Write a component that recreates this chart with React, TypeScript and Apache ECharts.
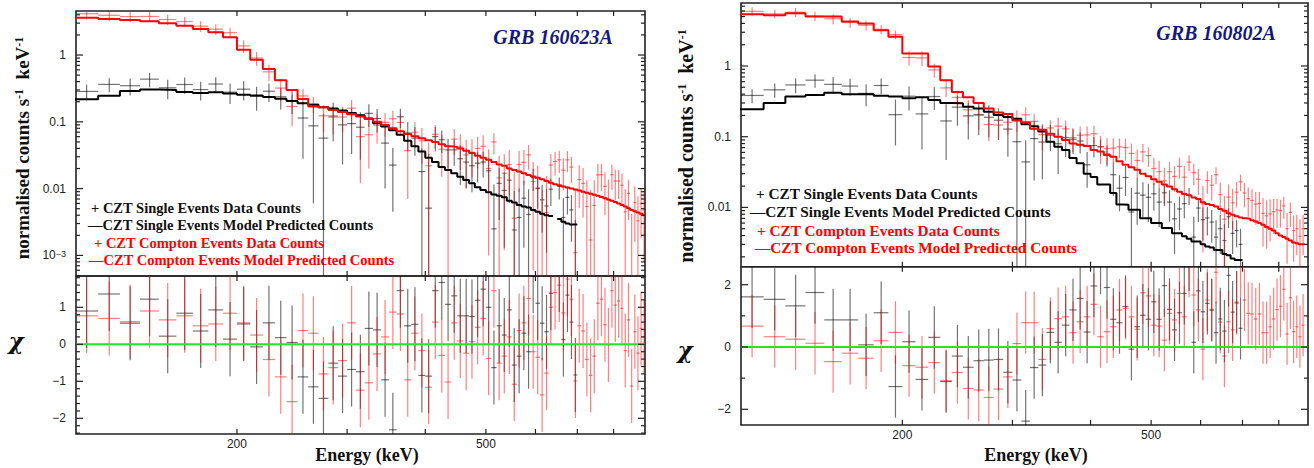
import React, { useEffect, useRef } from "react";
import * as echarts from "echarts";

// ---------- energy channels (lower edges, keV) ----------
const BIN_WIDTH = 10;
const energyLo = [110,120,130,140,150,160,170,180,190,200,
  210,220,230,240,250,260,270,280,290,300,
  310,320,330,340,350,360,370,380,390,400,
  410,420,430,440,450,460,470,480,490,500,
  510,520,530,540,550,560,570,580,590,600,
  610,620,630,640,650,660,670,680,690,700,
  710,720,730,740,750,760,770,780,790,800,
  810,820,830,840,850,860,870,880,890];

// ---------- GRB 160623A ----------
const a_comptonModel = [3.6,3.45,3.35,3.2,3.0,2.75,2.45,2.2,1.85,1.2,
  0.85,0.62,0.42,0.30,0.22,0.17,0.165,0.15,0.14,0.13,
  0.12,0.11,0.10,0.09,0.08,0.072,0.066,0.061,0.057,0.053,
  0.050,0.046,0.043,0.042,0.040,0.037,0.034,0.031,0.029,0.027,
  0.025,0.023,0.022,0.020,0.019,0.018,0.017,0.016,0.0152,0.0145,
  0.0138,0.0130,0.0122,0.0116,0.0112,0.0108,0.0104,0.0100,0.0097,0.0094,
  0.0090,0.0087,0.0084,0.0081,0.0078,0.0075,0.0072,0.0069,0.0066,0.0063,
  0.0060,0.0057,0.0054,0.0051,0.0048,0.0046,0.0044,0.0042,0.0040];
const a_comptonData = [4.15,3.93,3.76,3.78,3.4,3.17,2.7,2.44,2.16,1.37,
  0.90,0.56,0.32,0.17,0.244,0.185,0.123,0.117,0.118,0.16,
  0.060,0.064,0.089,0.098,0.111,0.098,0.037,0.070,0.052,0.022,
  0.065,0.039,0.019,0.055,0.042,0.032,0.035,0.040,0.043,0.020,
  0.050,0.0145,0.017,0.023,0.0036,0.023,0.0247,0.032,0.0128,0.0103,
  -0.0017,0.0044,0.0226,0.0255,0.027,0.0189,0.027,0.021,0.0011,0.0137,
  0.012,0.0054,0.0017,0.0056,0.016,0.0162,0.0108,0.0068,0.0162,0.013,
  0.013,0.0112,0.0045,0.0085,-0.0006,0.0062,0.0033,0.006,0.0048];
const a_comptonErr = [0.72,0.69,0.67,0.64,0.60,0.55,0.49,0.44,0.37,0.30,
  0.21,0.155,0.118,0.084,0.066,0.051,0.053,0.0525,0.049,0.052,
  0.048,0.044,0.042,0.038,0.036,0.032,0.030,0.029,0.0285,0.0265,
  0.025,0.024,0.0237,0.023,0.023,0.022,0.020,0.020,0.020,0.019,
  0.0175,0.0166,0.0158,0.015,0.0143,0.014,0.0133,0.0128,0.0122,0.0119,
  0.0113,0.011,0.0104,0.0099,0.0099,0.0095,0.0094,0.009,0.0087,0.0086,
  0.0083,0.008,0.008,0.0077,0.0074,0.0071,0.0068,0.0069,0.0066,0.0063,
  0.006,0.0057,0.0054,0.0051,0.0048,0.0046,0.0044,0.0042,0.004];
const a_comptonChi = [0.77,0.70,0.61,0.90,0.66,0.77,0.50,0.55,0.84,0.58,
  0.25,-0.41,-0.88,-1.55,0.37,0.30,-0.80,-0.63,-0.44,0.58,
  -1.24,-1.04,-0.26,0.2,0.87,0.82,-0.96,0.3,-0.17,-1.16,
  0.6,-0.3,-1.02,0.58,0.09,-0.24,0.07,0.46,0.70,-0.38,
  1.45,-0.51,-0.32,0.2,-1.08,0.37,0.58,1.24,-0.2,-0.35,
  -1.37,-0.78,1.0,1.40,1.60,0.85,1.76,1.22,-0.99,0.5,
  0.36,-0.41,-0.84,-0.32,1.11,1.22,0.53,-0.02,1.45,1.06,
  1.17,0.97,-0.17,0.66,-1.13,0.34,-0.24,0.43,0.2];

const a_singleModel = [0.217,0.246,0.29,0.305,0.30,0.28,0.27,0.278,0.265,0.255,
  0.248,0.235,0.222,0.205,0.19,0.18,0.165,0.158,0.148,0.135,
  0.125,0.112,0.095,0.085,0.075,0.064,0.052,0.043,0.036,0.029,
  0.025,0.021,0.019,0.017,0.0151,0.0135,0.012,0.0105,0.0095,0.0088,
  0.0082,0.0078,0.0074,0.0066,0.0062,0.0057,0.0054,0.0052,0.0048,0.0045,
  0.0042,0.0040,0.0039,null,0.0035,0.0032,0.0030,0.0029,0.0029];
const a_singleData = [0.285,0.363,0.347,0.435,0.323,0.362,0.304,0.368,0.278,0.308,
  0.241,0.287,0.237,0.209,0.114,0.087,0.057,0.122,0.090,0.094,
  0.083,0.134,0.112,0.048,0.0225,0.119,0.068,0.057,0.018,0.0051,
  0.060,0.054,0.038,0.038,0.028,0.025,0.022,0.024,0.025,0.0185,
  0.0025,0.012,0.0094,0.0134,0.0024,0.0037,0.0072,0.0041,0.0145,0.010,
  0.0068,0.0055,0.0098,null,0.0108,0.0037,0.0074,0.0048,0.0002];
const a_singleErr = [0.076,0.086,0.10,0.107,0.105,0.098,0.095,0.097,0.093,0.097,
  0.094,0.089,0.084,0.078,0.086,0.081,0.074,0.071,0.067,0.061,
  0.056,0.050,0.043,0.038,0.018,0.038,0.031,0.026,0.022,0.028,
  0.024,0.020,0.018,0.016,0.0166,0.0149,0.0132,0.0116,0.0105,0.0097,
  0.009,0.0086,0.0081,0.0073,0.0068,0.0063,0.0059,0.0057,0.0053,0.005,
  0.0046,0.0044,0.0043,null,0.0039,0.0035,0.0033,0.0032,0.0032];
const a_singleChi = [0.90,1.36,0.57,1.22,0.22,0.84,0.36,0.93,0.14,0.55,
  -0.07,0.58,0.18,0.05,-0.88,-1.15,-1.46,-0.51,-0.86,-0.68,
  -0.74,0.43,0.39,-0.96,-2.31,1.45,0.50,0.54,-0.84,-0.86,
  1.45,1.67,1.08,1.31,0.77,0.77,0.75,1.19,1.49,1.0,
  -0.63,0.50,0.25,0.93,-0.56,-0.32,0.3,-0.2,1.84,1.11,
  0.57,0.34,1.38,null,1.87,0.13,1.33,0.6,-0.83];

// ---------- GRB 160802A ----------
const b_comptonModel = [5.4,5.2,5.55,5.0,5.0,4.25,4.0,3.2,2.6,1.5,
  1.5,0.98,0.63,0.43,0.36,0.30,0.25,0.22,0.21,0.17,
  0.16,0.13,0.125,0.11,0.10,0.09,0.08,0.077,0.074,0.065,
  0.062,0.055,0.052,0.045,0.040,0.037,0.034,0.030,0.0275,0.025,
  0.023,0.021,0.0197,0.018,0.0167,0.0155,0.0148,0.0138,0.0132,0.0118,
  0.0112,0.0108,0.0103,0.0095,0.0090,0.0083,0.0079,0.0075,0.0072,0.0070,
  0.0069,0.0066,0.0063,0.0060,0.0057,0.0053,0.0050,0.0047,0.0043,0.0040,
  0.0038,0.0036,0.0034,0.0032,0.0031,0.0030,0.0030];
const b_comptonData = [5.94,5.46,5.76,5.09,4.65,4.12,3.78,3.3,2.78,1.32,
  1.30,0.88,0.49,0.36,0.24,0.20,0.149,0.146,0.16,0.177,
  0.204,0.165,0.107,0.133,0.141,0.129,0.097,0.105,0.106,0.110,
  0.072,0.068,0.069,0.072,0.070,0.058,0.046,0.061,0.054,0.0355,
  0.032,0.0238,0.032,0.0274,0.038,0.0268,0.0437,0.031,0.025,0.0112,
  0.024,0.0206,0.029,0.0152,0.0068,0.0140,0.0116,0.0164,0.023,0.016,
  0.0133,0.0125,0.0111,0.0114,0.0082,0.0076,0.0081,0.0087,0.0092,0.0090,
  0.0105,0.005,0.0085,0.0047,0.0050,0.0039,0.005];
const b_comptonErr = [0.81,0.78,0.83,0.75,0.75,0.64,0.6,0.48,0.39,0.30,
  0.30,0.196,0.126,0.086,0.09,0.075,0.0625,0.055,0.0525,0.06,
  0.056,0.0455,0.044,0.0385,0.045,0.0405,0.036,0.0347,0.0333,0.0325,
  0.031,0.0275,0.026,0.0225,0.024,0.022,0.020,0.018,0.0165,0.015,
  0.0138,0.0126,0.0118,0.0108,0.0125,0.0116,0.0111,0.0104,0.0099,0.0089,
  0.0084,0.0081,0.0077,0.0071,0.0077,0.0071,0.0067,0.0064,0.0061,0.006,
  0.0059,0.0056,0.0054,0.0051,0.0054,0.005,0.0048,0.0045,0.0041,0.0038,
  0.0036,0.0034,0.0032,0.003,0.0029,0.0029,0.0029];
const b_comptonChi = [0.67,0.33,0.25,0.12,-0.47,-0.2,-0.36,0.20,0.47,-0.60,
  -0.65,-0.50,-1.08,-0.82,-1.33,-1.38,-1.62,-1.35,-0.96,0.11,
  0.78,0.78,-0.40,0.59,0.91,0.97,0.46,0.81,0.97,1.37,
  0.33,0.49,0.65,1.19,1.24,0.97,0.57,1.74,1.64,0.70,
  0.67,0.22,1.08,0.87,1.72,0.97,2.6,1.67,1.19,-0.07,
  1.51,1.21,2.4,0.8,-0.29,0.81,0.55,1.40,2.6,1.51,
  1.08,1.06,0.9,1.06,0.46,0.46,0.65,0.9,1.2,1.31,
  1.85,0.42,1.58,0.49,0.65,0.33,0.7];

const b_singleModel = [0.245,0.30,0.37,0.39,0.42,0.40,0.40,0.38,0.37,0.35,
  0.36,0.33,0.30,0.297,0.266,0.25,0.226,0.203,0.19,0.18,
  0.15,0.14,0.118,0.085,0.072,0.065,0.050,0.042,0.030,0.027,
  0.021,0.021,0.016,0.011,0.0109,0.0093,0.0093,0.0070,0.0070,0.0060,
  0.0060,0.0051,0.0051,0.0043,0.0043,0.0039,0.0036,0.0033,0.0033,0.0030,
  0.0028,0.0027,0.0025,0.0025,0.0022,0.0021,0.0019,0.0018,0.0018];
const b_singleData = [0.383,0.46,0.54,0.63,0.55,0.52,0.41,0.53,0.205,0.374,
  0.21,0.37,0.167,0.262,0.197,0.206,0.188,0.171,0.128,0.085,
  0.044,0.094,0.084,0.105,0.0796,0.097,0.092,0.087,0.040,0.075,
  0.072,0.057,0.029,0.0187,0.0265,0.0086,0.0159,0.0149,0.0139,0.0156,
  0.0119,0.0161,0.0119,0.0069,0.0095,0.0113,0.0148,0.0038,0.0098,0.0067,
  0.0071,0.0062,0.0038,0.005,0.0034,0.0074,0.0043,0.0047,0.003];
const b_singleErr = [0.086,0.105,0.13,0.137,0.147,0.14,0.14,0.133,0.13,0.14,
  0.144,0.132,0.12,0.119,0.106,0.10,0.09,0.081,0.076,0.09,
  0.045,0.07,0.059,0.0425,0.05,0.0455,0.035,0.029,0.021,0.0243,
  0.019,0.019,0.0144,0.0099,0.012,0.0102,0.0102,0.0077,0.0077,0.0066,
  0.0066,0.0056,0.0056,0.0047,0.0047,0.0043,0.004,0.0036,0.0036,0.0033,
  0.0031,0.003,0.0028,0.0028,0.0024,0.0023,0.0021,0.002,0.002];
const b_singleChi = [1.61,1.53,1.32,1.75,0.87,0.87,0.07,1.10,-1.27,0.17,
  -1.04,0.31,-1.11,-0.29,-0.65,-0.44,-0.42,-0.40,-0.81,-1.06,
  -2.38,-0.66,-0.58,0.47,0.15,0.70,1.19,1.56,0.48,1.96,
  2.7,1.91,0.89,0.78,1.30,-0.07,0.65,1.02,0.89,1.45,
  0.89,1.97,1.21,0.55,1.1,1.72,2.8,0.15,1.8,1.13,
  1.40,1.18,0.46,0.9,0.51,2.3,1.12,1.44,0.6];

// ---------- axes / ticks ----------
const CHI_ERR = 1;
const xLabelTicks = [200, 500];
const xMinorTicks = [300, 400, 600, 700, 800];
const logDecades = [0.0001, 0.001, 0.01, 0.1, 1, 10];
const logMinorMult = [2, 3, 4, 5, 6, 7, 8, 9];
const a_yLabels = [1, 0.1, 0.01, 0.001];
const b_yLabels = [1, 0.1, 0.01];
const a_chiLabels = [1, 0, -1, -2];
const a_chiMinor = [-2.4,-2.2,-1.8,-1.6,-1.4,-1.2,-0.8,-0.6,-0.4,-0.2,0.2,0.4,0.6,0.8,1.2,1.4,1.6,1.8];
const b_chiLabels = [2, 0, -2];
const b_chiMinor = [-1, 1];

const SERIF = "'Liberation Serif','Times New Roman',serif";
const SANS = "'Liberation Sans',Arial,sans-serif";
const TICK = "#222";
const RED_BAR = "rgba(255,0,0,0.5)";
const BLACK_BAR = "rgba(0,0,0,0.55)";

function stepRuns(model: any[]) {
  const runs: any[] = [];
  let cur: any[] = [];
  model.forEach((m, i) => {
    if (m == null) {
      if (cur.length) runs.push(cur);
      cur = [];
      return;
    }
    const lo = energyLo[i];
    cur.push([lo, m], [lo + BIN_WIDTH, m]);
  });
  if (cur.length) runs.push(cur);
  return runs;
}

function crossData(values: any[], errs: any[] | null) {
  const out: any[] = [];
  values.forEach((v, i) => {
    if (v == null) return;
    const lo = energyLo[i];
    out.push([lo, lo + BIN_WIDTH, v, errs ? errs[i] : CHI_ERR]);
  });
  return out;
}

function crossSeries(data: any[], color: string, gi: number, logY: boolean) {
  return {
    type: "custom",
    xAxisIndex: gi,
    yAxisIndex: gi,
    silent: true,
    z: 2,
    data,
    encode: { x: [0, 1], y: 3 },
    renderItem: (params: any, api: any) => {
      const cs = params.coordSys;
      const L = cs.x, R = cs.x + cs.width, T = cs.y, B = cs.y + cs.height;
      const lo = api.value(0), hi = api.value(1), v = api.value(2), e = api.value(3);
      const c = (lo + hi) / 2;
      const px = (x: number) => api.coord([x, 1])[0];
      const py = (y: number) => (logY && y <= 0 ? B + 50 : api.coord([c, y])[1]);
      const cl = (y: number) => Math.min(B, Math.max(T, y));
      const children: any[] = [];
      const xc = px(c);
      const y1 = cl(py(v + e));
      const y2 = cl(py(v - e));
      if (xc >= L && xc <= R && y2 - y1 > 0.2) {
        children.push({ type: "line", shape: { x1: xc, y1, x2: xc, y2 }, style: { stroke: color, lineWidth: 1.2 } });
      }
      const yv = py(v);
      if (yv >= T && yv <= B) {
        const xa = Math.max(L, px(lo));
        const xb = Math.min(R, px(hi));
        if (xb > xa) children.push({ type: "line", shape: { x1: xa, y1: yv, x2: xb, y2: yv }, style: { stroke: color, lineWidth: 1.2 } });
      }
      return { type: "group", children };
    },
  };
}

function tickSeries(gi: number, cfg: any) {
  return {
    type: "custom",
    xAxisIndex: gi,
    yAxisIndex: gi,
    silent: true,
    z: 6,
    data: [[cfg.xRef, cfg.yRef]],
    renderItem: (params: any, api: any) => {
      const cs = params.coordSys;
      const L = cs.x, R = cs.x + cs.width, T = cs.y, B = cs.y + cs.height;
      const ch: any[] = [];
      const ln = (x1: number, y1: number, x2: number, y2: number) =>
        ch.push({ type: "line", shape: { x1, y1, x2, y2 }, style: { stroke: TICK, lineWidth: 1.2 } });
      const tx = (x: number, y: number, text: string, align: string, rich?: any) =>
        ch.push({
          type: "text",
          x, y,
          style: { text, font: "12px " + SANS, fill: "#222", align, verticalAlign: "middle", rich },
        });
      [...xLabelTicks, ...xMinorTicks].forEach((v) => {
        const x = api.coord([v, cfg.yRef])[0];
        if (x < L || x > R) return;
        ln(x, B, x, B - 5);
        ln(x, T, x, T + 5);
      });
      if (cfg.xLabels) {
        xLabelTicks.forEach((v) => {
          const x = api.coord([v, cfg.yRef])[0];
          tx(x, B + 10, String(v), "center");
        });
      }
      const yMajor: number[] = cfg.yMajor;
      const yMinor: number[] = cfg.yMinor;
      yMajor.forEach((v) => {
        const y = api.coord([cfg.xRef, v])[1];
        if (y < T - 0.5 || y > B + 0.5) return;
        ln(L, y, L + 7, y);
        ln(R, y, R - 7, y);
        const lab = cfg.fmt(v);
        if (lab.rich) tx(L - 10, y, lab.text, "right", lab.rich);
        else tx(L - 10, y, lab, "right");
      });
      yMinor.forEach((v) => {
        const y = api.coord([cfg.xRef, v])[1];
        if (y < T || y > B) return;
        ln(L, y, L + 4, y);
        ln(R, y, R - 4, y);
      });
      return { type: "group", children: ch };
    },
  };
}

function logMinor(min: number, max: number) {
  const out: number[] = [];
  logDecades.forEach((d) => logMinorMult.forEach((m) => {
    const v = d * m;
    if (v > min && v < max) out.push(v);
  }));
  return out;
}

const fmtLog = (v: number) => {
  if (v === 0.001) {
    return {
      text: "{b|10}{s|\u22123}",
      rich: {
        b: { font: "12px " + SANS, fill: "#222" },
        s: { font: "9px " + SANS, fill: "#222", verticalAlign: "top" },
      },
    };
  }
  return String(v);
};
const fmtChi = (v: number) => (v < 0 ? "\u2212" + String(-v) : String(v));

function modelSeries(model: any[], color: string, gi: number) {
  return stepRuns(model).map((run) => ({
    type: "line",
    xAxisIndex: gi,
    yAxisIndex: gi,
    data: run,
    symbol: "none",
    silent: true,
    z: 3,
    lineStyle: { color, width: 2 },
  }));
}

function zeroLine(gi: number, xmin: number, xmax: number) {
  return {
    type: "line",
    xAxisIndex: gi,
    yAxisIndex: gi,
    data: [[xmin, 0], [xmax, 0]],
    symbol: "none",
    silent: true,
    z: 4,
    lineStyle: { color: "#22e822", width: 2 },
  };
}

const legendLabels = [
  "+ CZT Single Events Data Counts",
  "\u2014CZT Single Events Model Predicted Counts",
  "+ CZT Compton Events Data Counts",
  "\u2014CZT Compton Events Model Predicted Counts",
];
const legendColors = ["#111", "#111", "#ff0000", "#ff0000"];

export default function App() {
  const ref = useRef<HTMLDivElement>(null);
  useEffect(() => {
    if (!ref.current) return;
    const chart = echarts.init(ref.current, undefined, { renderer: "svg" });

    const A = { L: 76, R: 645, T: 11, M: 276, B: 434, xmin: 110.6, xmax: 898, ymin: 4.92e-4, ymax: 4.56, cmin: -2.424, cmax: 1.846 };
    const Bp = { L: 741, R: 1308, T: 3, M: 266.7, B: 425, xmin: 110.4, xmax: 891, ymin: 1.45e-3, ymax: 7.78, cmin: -2.504, cmax: 2.578 };

    const grids = [
      { left: A.L, top: A.T, width: A.R - A.L, height: A.M - A.T },
      { left: A.L, top: A.M, width: A.R - A.L, height: A.B - A.M },
      { left: Bp.L, top: Bp.T, width: Bp.R - Bp.L, height: Bp.M - Bp.T },
      { left: Bp.L, top: Bp.M, width: Bp.R - Bp.L, height: Bp.B - Bp.M },
    ].map((g) => ({ ...g, show: true, borderColor: "#222", borderWidth: 1.6, backgroundColor: "transparent" }));

    const xAxes = [A, A, Bp, Bp].map((p, i) => ({
      type: "log", logBase: 10, gridIndex: i, min: p.xmin, max: p.xmax, show: false,
    }));
    const yAxes = [
      { type: "log", logBase: 10, gridIndex: 0, min: A.ymin, max: A.ymax, show: false },
      { type: "value", gridIndex: 1, min: A.cmin, max: A.cmax, show: false },
      { type: "log", logBase: 10, gridIndex: 2, min: Bp.ymin, max: Bp.ymax, show: false },
      { type: "value", gridIndex: 3, min: Bp.cmin, max: Bp.cmax, show: false },
    ];

    const series: any[] = [
      // GRB 160623A spectrum
      crossSeries(crossData(a_singleData, a_singleErr), BLACK_BAR, 0, true),
      crossSeries(crossData(a_comptonData, a_comptonErr), RED_BAR, 0, true),
      ...modelSeries(a_singleModel, "#000", 0),
      ...modelSeries(a_comptonModel, "#ff0000", 0),
      tickSeries(0, { xRef: 300, yRef: 0.1, xLabels: false, yMajor: a_yLabels, yMinor: logMinor(A.ymin, A.ymax), fmt: fmtLog }),
      // GRB 160623A residuals
      crossSeries(crossData(a_singleChi, null), BLACK_BAR, 1, false),
      crossSeries(crossData(a_comptonChi, null), RED_BAR, 1, false),
      zeroLine(1, A.xmin, A.xmax),
      tickSeries(1, { xRef: 300, yRef: 0, xLabels: true, yMajor: a_chiLabels, yMinor: a_chiMinor, fmt: fmtChi }),
      // GRB 160802A spectrum
      crossSeries(crossData(b_singleData, b_singleErr), BLACK_BAR, 2, true),
      crossSeries(crossData(b_comptonData, b_comptonErr), RED_BAR, 2, true),
      ...modelSeries(b_singleModel, "#000", 2),
      ...modelSeries(b_comptonModel, "#ff0000", 2),
      tickSeries(2, { xRef: 300, yRef: 0.1, xLabels: false, yMajor: b_yLabels, yMinor: logMinor(Bp.ymin, Bp.ymax), fmt: fmtLog }),
      // GRB 160802A residuals
      crossSeries(crossData(b_singleChi, null), BLACK_BAR, 3, false),
      crossSeries(crossData(b_comptonChi, null), RED_BAR, 3, false),
      zeroLine(3, Bp.xmin, Bp.xmax),
      tickSeries(3, { xRef: 300, yRef: 0, xLabels: true, yMajor: b_chiLabels, yMinor: b_chiMinor, fmt: fmtChi }),
    ];

    const yName = (x: number, y: number, size: number) => ({
      type: "text",
      x, y,
      rotation: Math.PI / 2,
      style: {
        text: "{m|normalised counts s}{s|-1}{m|  keV}{s|-1}",
        align: "center",
        verticalAlign: "middle",
        rich: {
          m: { font: `bold ${size}px ${SERIF}`, fill: "#111" },
          s: { font: `bold ${Math.round(size * 0.62)}px ${SERIF}`, fill: "#111", verticalAlign: "top" },
        },
      },
    });
    const txt = (x: number, y: number, text: string, font: string, fill: string, align = "left") => ({
      type: "text", x, y,
      style: { text, font, fill, align, verticalAlign: "middle" },
    });

    const legA = [[91, 208], [88, 225], [94, 243], [89, 260]];
    const legB = [[756, 193], [750, 211], [757, 230], [755, 247]];
    const CHI_FONT = "italic bold 23px 'DejaVu Serif',serif";

    const graphic: any[] = [
      yName(22, 148, 19),
      yName(686, 146, 20),
      txt(16, 340, "\u03c7", CHI_FONT, "#111", "center"),
      txt(685, 349, "\u03c7", CHI_FONT, "#111", "center"),
      txt(367, 455, "Energy (keV)", `bold 18px ${SERIF}`, "#111", "center"),
      txt(1036, 455, "Energy (keV)", `bold 18px ${SERIF}`, "#111", "center"),
      txt(553, 37, "GRB 160623A", `italic bold 20px ${SERIF}`, "#141a7c", "center"),
      txt(1216, 33, "GRB 160802A", `italic bold 20px ${SERIF}`, "#141a7c", "center"),
      ...legA.map((p, i) => txt(p[0], p[1], legendLabels[i], `bold 14.5px ${SERIF}`, legendColors[i])),
      ...legB.map((p, i) => txt(p[0], p[1], legendLabels[i], `bold 15.3px ${SERIF}`, legendColors[i])),
    ];

    chart.setOption({
      animation: false,
      backgroundColor: "#fff",
      grid: grids,
      xAxis: xAxes,
      yAxis: yAxes,
      series,
      graphic,
    });
    return () => chart.dispose();
  }, []);
  return <div ref={ref} style={{ position: "absolute", left: 0, top: 0, width: 1314, height: 468 }} />;
}
